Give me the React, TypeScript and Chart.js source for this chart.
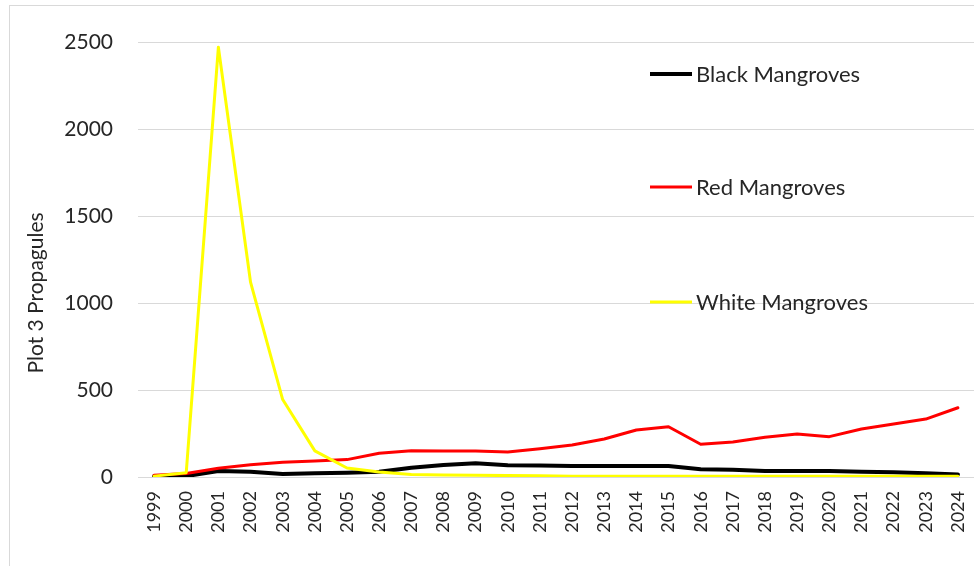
import React, { useEffect, useRef } from "react";
import { Chart, registerables } from "chart.js";

Chart.register(...registerables);

const years = ["1999","2000","2001","2002","2003","2004","2005","2006","2007","2008","2009","2010","2011","2012","2013","2014","2015","2016","2017","2018","2019","2020","2021","2022","2023","2024"];
const blackMangroves = [5,5,35,30,17,21,25,30,53,69,79,67,66,63,63,63,63,44,42,35,35,35,30,28,22,15];
const redMangroves = [10,20,50,70,85,92,100,136,151,150,150,144,162,184,218,270,289,188,201,228,247,232,276,305,333,398];
const whiteMangroves = [5,25,2470,1120,445,150,52,29,15,12,10,8,7,5,5,5,5,5,5,5,5,5,5,5,5,5];
const seriesNames = ["Black Mangroves", "Red Mangroves", "White Mangroves"];
const seriesColors = ["#000000", "#ff0000", "#ffff00"];
const yTicks = [0, 500, 1000, 1500, 2000, 2500];
const yTitle = "Plot 3 Propagules";

const FONT = "Lato";
const TEXT = "#262626";
const GRID = "#d9d9d9";

const legendPlugin = {
  id: "insideLegend",
  afterDraw(chart: any) {
    const ctx = chart.ctx;
    const ys = [74, 187, 302];
    ctx.save();
    chart.data.datasets.forEach((ds: any, i: number) => {
      ctx.strokeStyle = ds.borderColor;
      ctx.lineWidth = ds.borderWidth;
      ctx.lineCap = "butt";
      ctx.beginPath();
      ctx.moveTo(650, ys[i]);
      ctx.lineTo(692, ys[i]);
      ctx.stroke();
      ctx.fillStyle = TEXT;
      ctx.font = `22px ${FONT}`;
      ctx.textAlign = "left";
      ctx.textBaseline = "middle";
      ctx.fillText(ds.label, 696, ys[i] + 1);
    });
    ctx.restore();
  },
};

const yTitlePlugin = {
  id: "yTitle",
  afterDraw(chart: any) {
    const ctx = chart.ctx;
    ctx.save();
    ctx.translate(36, 293);
    ctx.rotate(-Math.PI / 2);
    ctx.fillStyle = TEXT;
    ctx.font = `21px ${FONT}`;
    ctx.textAlign = "center";
    ctx.textBaseline = "middle";
    ctx.fillText(yTitle, 0, 0);
    ctx.restore();
  },
};

export default function App() {
  const ref = useRef<HTMLCanvasElement>(null);
  useEffect(() => {
    if (!ref.current) return;
    const data = [blackMangroves, redMangroves, whiteMangroves];
    const chart = new Chart(ref.current, {
      type: "line",
      data: {
        labels: years,
        datasets: data.map((d, i) => ({
          label: seriesNames[i],
          data: d,
          borderColor: seriesColors[i],
          backgroundColor: seriesColors[i],
          borderWidth: i === 0 ? 4 : 3,
          pointRadius: 0,
          tension: 0,
          borderJoinStyle: "round" as const,
          borderCapStyle: "round" as const,
          order: 2 - i,
        })),
      },
      options: {
        animation: false,
        responsive: false,
        layout: { padding: { top: 42, left: 0, right: 0, bottom: 0 } },
        plugins: { legend: { display: false }, tooltip: { enabled: false } },
        scales: {
          x: {
            offset: true,
            grid: { display: false, drawTicks: false },
            border: { display: true, color: GRID, width: 1 },
            ticks: {
              autoSkip: false,
              minRotation: 90,
              maxRotation: 90,
              padding: 14,
              color: TEXT,
              font: { family: FONT, size: 18 },
            },
            afterFit: (s: any) => { s.height = 89; s.paddingRight = 0; s.paddingLeft = 0; },
          },
          y: {
            min: 0,
            max: 2500,
            afterBuildTicks: (s: any) => { s.ticks = yTicks.map((v) => ({ value: v })); },
            grid: { color: GRID, lineWidth: 1, drawTicks: false },
            border: { display: false },
            ticks: {
              padding: 25,
              color: TEXT,
              font: { family: FONT, size: 21 },
              callback: (v: any) => String(v),
            },
            afterFit: (s: any) => { s.width = 138; },
          },
        },
      },
      plugins: [legendPlugin, yTitlePlugin],
    });
    return () => chart.destroy();
  }, []);
  return (
    <div style={{ position: "fixed", left: 0, top: 0, width: 974, height: 566, overflow: "hidden", background: "#fff" }}>
      <div style={{ position: "absolute", left: 9, top: 5, width: 2000, height: 2000, border: "1px solid #d9d9d9" }} />
      <canvas ref={ref} width={974} height={566} style={{ position: "absolute", left: 0, top: 0 }} />
    </div>
  );
}
